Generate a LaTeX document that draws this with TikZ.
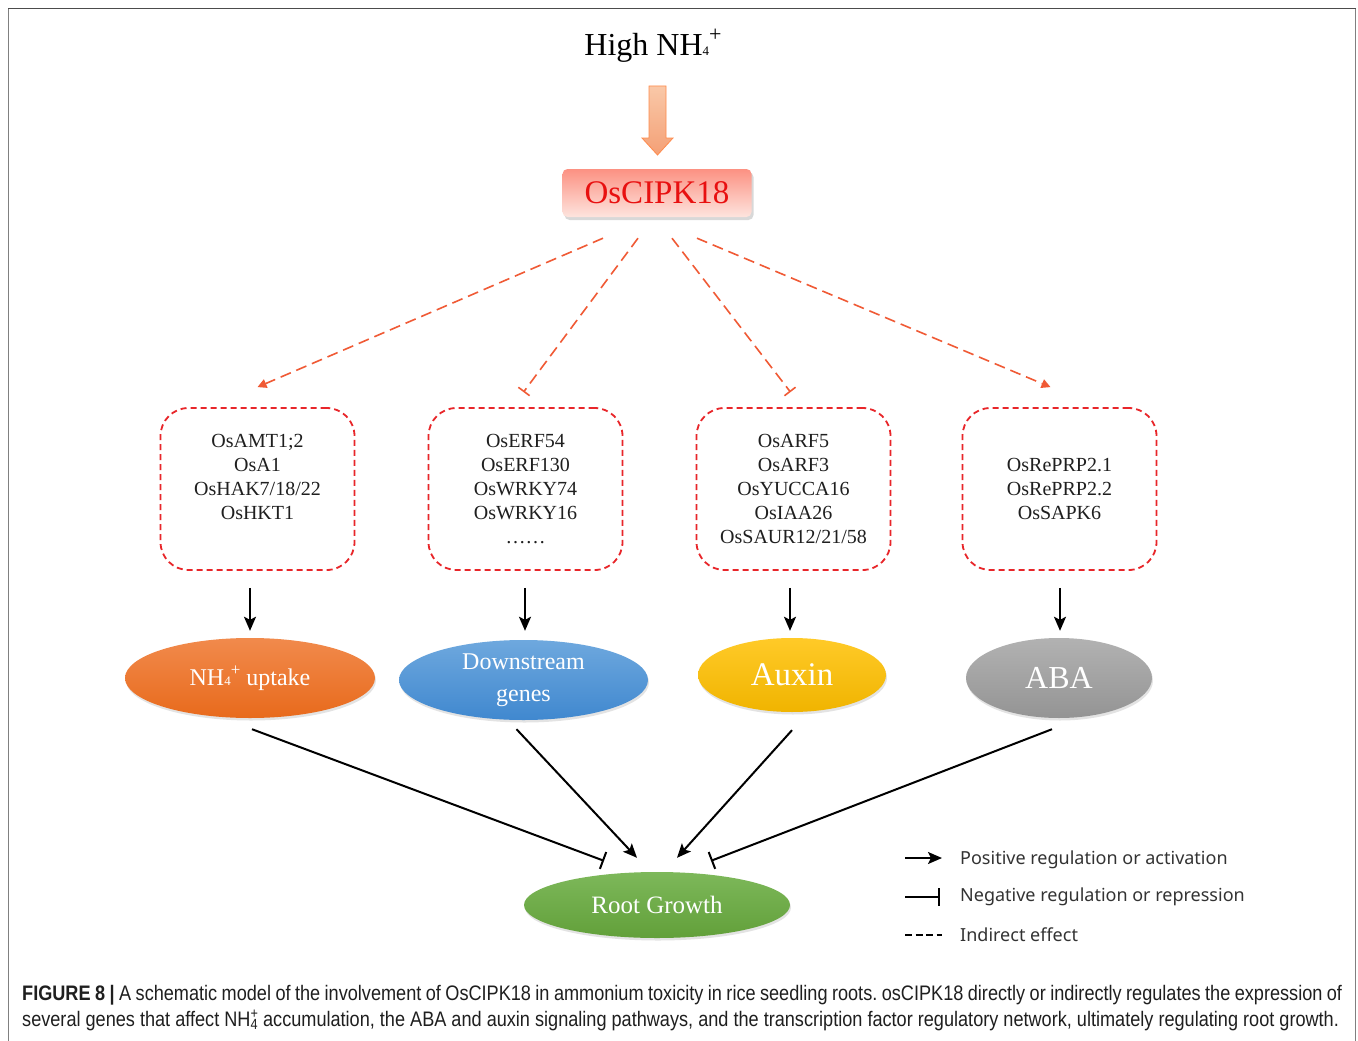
\documentclass[tikz,border=0pt]{standalone}
\usepackage{fontspec}
\setmainfont{Liberation Serif}
\newfontfamily\legfont{Noto Sans}
\newfontfamily\capfont[FakeStretch=0.863]{Liberation Sans}
\usetikzlibrary{arrows.meta,shadows,calc,shapes.geometric}
\newcommand\fs[2]{\fontsize{#1}{#2}\selectfont}
\definecolor{boxred}{HTML}{E8262A}
\definecolor{dashred}{HTML}{F05A35}
\definecolor{cipkred}{HTML}{E81010}
\definecolor{legtext}{HTML}{333333}
\begin{document}
\frenchspacing
\begin{tikzpicture}[x=1pt,y=-1pt,
  genebox/.style={draw=boxred, dash pattern=on 6pt off 4pt, line width=1.8pt, rounded corners=28pt, minimum width=194pt, minimum height=162pt, inner sep=0pt},
  genetext/.style={align=center, inner sep=0pt, font=\fs{20}{24}, anchor=north, text=black!88},
  ind/.style={draw=dashred, line width=1.6pt, dash pattern=on 11pt off 6pt},
  indarrow/.style={ind, -{Triangle[length=9pt,width=9pt]}},
  indbar/.style={ind, -{Bar[width=14pt,line width=1.6pt]}},
  posarrow/.style={draw=black, line width=2pt, -{Stealth[length=14pt,width=12pt,inset=3pt]}},
  negbar/.style={draw=black, line width=2pt, -{Bar[width=18pt,line width=2pt]}},
  oval/.style={ellipse, inner sep=0pt, text=white, drop shadow={shadow xshift=1pt, shadow yshift=-2.5pt, opacity=0.22}},
  legtxt/.style={anchor=west, inner sep=0pt, font=\legfont\fs{18}{22}, text=legtext}
]
\useasboundingbox (0,0) rectangle (1358,1041);
\fill[white] (0,0) rectangle (1358,1041);
% frame
\draw[line width=1.5pt, draw=black!50] (8.5,1041) -- (8.5,8.5);
\draw[line width=1.5pt, draw=black!50] (1355.5,1041) -- (1355.5,8.5);
\draw[line width=1.5pt, draw=black!70] (8,8.5) -- (1356,8.5);

% title
\node[anchor=base, inner sep=0pt, font=\fs{32}{32}] (high) at (653,56) {High NH{\fs{13}{13}4}\raisebox{0.45em}{\fs{22}{22}+}};

% block arrow
\draw[draw=orange!70!red!70, line width=0.8pt, top color={rgb,255:red,249;green,200;blue,168}, bottom color={rgb,255:red,244;green,160;blue,118}]
  (649,86) -- (666,86) -- (666,138) -- (673,138) -- (657.5,155) -- (642,138) -- (649,138) -- cycle;

% OsCIPK18
\node[rectangle, rounded corners=5pt, minimum width=189pt, minimum height=48pt, inner sep=0pt,
  top color={rgb,255:red,252;green,145;blue,130}, bottom color={rgb,255:red,253;green,228;blue,222},
  drop shadow={shadow xshift=2pt, shadow yshift=-3pt, opacity=0.3},
  text=cipkred, font=\fs{33}{33}] (cipk) at (657,193) {OsCIPK18};

% gene boxes
\node[genebox] (b1) at (257.5,489) {};
\node[genebox] (b2) at (525.5,489) {};
\node[genebox] (b3) at (793.5,489) {};
\node[genebox] (b4) at (1059.5,489) {};

\node[genetext] (t1) at (257.5,434.5) {OsAMT1;2\\OsA1\\OsHAK7/18/22\\OsHKT1};
\node[genetext] (t2) at (525.5,434.5) {OsERF54\\OsERF130\\OsWRKY74\\OsWRKY16\\……};
\node[genetext] (t3) at (793.5,434.5) {OsARF5\\OsARF3\\OsYUCCA16\\OsIAA26\\OsSAUR12/21/58};
\node[genetext] (t4) at (1059.5,458.5) {OsRePRP2.1\\OsRePRP2.2\\OsSAPK6};

% indirect connectors
\draw[indarrow] ($(cipk.south)+(-54,21)$) -- ($(b1.north)+(0,-20)$);
\draw[indbar]   ($(cipk.south)+(-19,21)$) -- ($(b2.north)+(-2,-15)$);
\draw[indbar]   ($(cipk.south)+(15,21)$)  -- ($(b3.north)+(-3,-15)$);
\draw[indarrow] ($(cipk.south)+(40,21)$)  -- ($(b4.north)+(-9,-20)$);

% ellipses
\node[oval, minimum width=250pt, minimum height=80pt,
  top color={rgb,255:red,241;green,138;blue,76}, bottom color={rgb,255:red,232;green,106;blue,28},
  font=\fs{24}{24}] (e1) at (250,678) {NH{\fs{13}{13}4}\raisebox{0.42em}{\fs{17}{17}+} uptake};
\node[oval, minimum width=249pt, minimum height=80pt,
  top color={rgb,255:red,110;green,168;blue,222}, bottom color={rgb,255:red,64;green,136;blue,207},
  align=center, font=\fs{24}{32}] (e2) at (523.5,680) {Downstream\\genes};
\node[oval, minimum width=188pt, minimum height=74pt,
  top color={rgb,255:red,255;green,202;blue,40}, bottom color={rgb,255:red,240;green,180;blue,0},
  font=\fs{33}{33}] (e3) at (792,675) {Auxin};
\node[oval, minimum width=186pt, minimum height=80pt,
  top color={rgb,255:red,178;green,178;blue,178}, bottom color={rgb,255:red,148;green,148;blue,148},
  font=\fs{32}{32}] (e4) at (1059,678) {ABA};
\node[oval, minimum width=266pt, minimum height=66pt,
  top color={rgb,255:red,125;green,184;blue,90}, bottom color={rgb,255:red,98;green,160;blue,58},
  font=\fs{25}{25}] (root) at (657,905) {Root Growth};

% box to ellipse arrows
\draw[posarrow, shorten <=17pt, shorten >=7pt] (e1.north |- b1.south) -- (e1.north);
\draw[posarrow, shorten <=17pt, shorten >=9pt] ($(e2.north |- b2.south)+(1.5,0)$) -- ($(e2.north)+(1.5,0)$);
\draw[posarrow, shorten <=17pt, shorten >=7pt] ($(e3.north |- b3.south)+(-2,0)$) -- ($(e3.north)+(-2,0)$);
\draw[posarrow, shorten <=17pt, shorten >=7pt] ($(e4.north |- b4.south)+(1,0)$) -- ($(e4.north)+(1,0)$);

% to root growth
\draw[negbar]   ($(e1.south)+(2,11)$)  -- ($(root.north)+(-53,-11)$);
\draw[posarrow] ($(e2.south)+(-7,9)$) -- ($(root.north)+(-20,-14)$);
\draw[posarrow] ($(e3.south)+(0,18)$)  -- ($(root.north)+(20,-14)$);
\draw[negbar]   ($(e4.south)+(-7,11)$) -- ($(root.north)+(54,-11)$);

% legend
\coordinate (l1a) at (905,858); \coordinate (l1b) at (942,858);
\coordinate (l2a) at (905,897); \coordinate (l2b) at (940,897);
\coordinate (l3a) at (905,935); \coordinate (l3b) at (942,935);
\draw[posarrow] (l1a) -- (l1b);
\draw[negbar] (l2a) -- (l2b);
\draw[draw=black, line width=2.4pt, dash pattern=on 7pt off 3.5pt] (l3a) -- (l3b);
\node[legtxt] (lt1) at (960,860) {Positive regulation or activation};
\node[legtxt] (lt2) at (960,897) {Negative regulation or repression};
\node[legtxt] (lt3) at (960,935) {Indirect effect};

% caption
\node[anchor=base west, inner sep=0pt, font=\capfont\fs{21}{25}, text=black!88] (cap1) at (22,1000)
  {\makebox[1320pt][s]{\textbf{FIGURE 8 |} A schematic model of the involvement of OsCIPK18 in ammonium toxicity in rice seedling roots. osCIPK18 directly or indirectly regulates the expression of}};
\node[anchor=base west, inner sep=0pt, font=\capfont\fs{21}{25}, text=black!88] (cap2) at (22,1026)
  {several genes that affect NH\rlap{\textsuperscript{+}}\textsubscript{4} accumulation, the ABA and auxin signaling pathways, and the transcription factor regulatory network, ultimately regulating root growth.};
\end{tikzpicture}
\end{document}
